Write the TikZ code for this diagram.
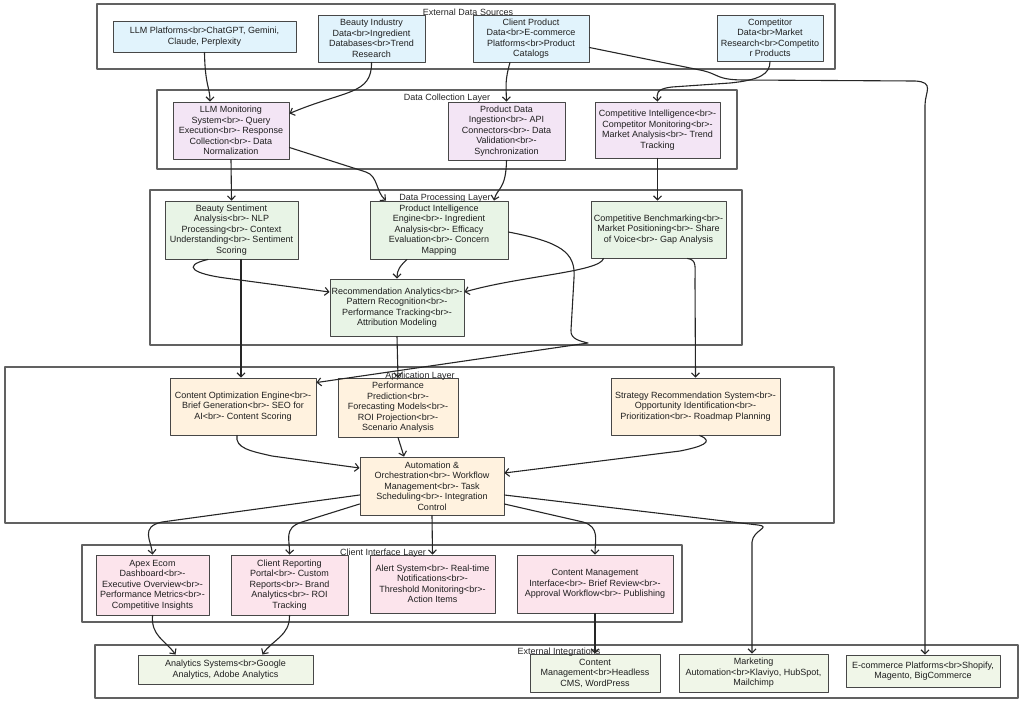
\documentclass[tikz,border=0pt]{standalone}
\usepackage{fontspec}
\setmainfont{Liberation Sans}
\usetikzlibrary{arrows.meta,calc}
\newcommand{\BR}{<br>}
\newcommand{\fs}{\fontsize{9}{10.5}\selectfont}
\definecolor{cblue}{HTML}{E1F3FC}
\definecolor{cpurp}{HTML}{F3E5F5}
\definecolor{cgreen}{HTML}{E8F4E6}
\definecolor{corange}{HTML}{FFF2DF}
\definecolor{cpink}{HTML}{FCE4EC}
\definecolor{cint}{HTML}{F0F6E8}
\begin{document}
\begin{tikzpicture}[x=1pt,y=-1pt,
  box/.style={draw=black!72, line width=0.9pt, align=center, inner sep=1pt, text=black!88, font=\fs},
  frame/.style={draw=black!62, line width=1.3pt},
  ttl/.style={font=\fs, inner sep=0pt, text=black!85},
  arr/.style={draw=black!85, line width=1.1pt, -{Straight Barb[length=4pt,width=8pt]}},
  line join=round, line cap=round]
\useasboundingbox (0,0) rectangle (1024,702);

% frames
\draw[frame] (97,4) rectangle (835,69);
\draw[frame] (157,90) rectangle (737,169);
\draw[frame] (150,190) rectangle (742,345);
\draw[frame] (5,367) rectangle (834,523);
\draw[frame] (82,545) rectangle (682,622);
\draw[frame] (95,645) rectangle (1018,698);

% nodes
\node[box,fill=cblue,minimum width=183,minimum height=31] (llmp) at (204.5,36.5) {LLM Platforms\BR ChatGPT, Gemini,\\Claude, Perplexity};
\node[box,fill=cblue,minimum width=107,minimum height=47] (beauty) at (371.5,38.5) {Beauty Industry\\Data\BR Ingredient\\Databases\BR Trend\\Research};
\node[box,fill=cblue,minimum width=116,minimum height=47] (client) at (531,38.5) {Client Product\\Data\BR E-commerce\\Platforms\BR Product\\Catalogs};
\node[box,fill=cblue,minimum width=106,minimum height=46] (comp) at (770,38) {Competitor\\Data\BR Market\\Research\BR Competito\\r Products};

\node[box,fill=cpurp,minimum width=116,minimum height=57] (llmmon) at (231,130.5) {LLM Monitoring\\System\BR- Query\\Execution\BR- Response\\Collection\BR- Data\\Normalization};
\node[box,fill=cpurp,minimum width=117,minimum height=58] (pdi) at (506.5,131) {Product Data\\Ingestion\BR- API\\Connectors\BR- Data\\Validation\BR-\\Synchronization};
\node[box,fill=cpurp,minimum width=125,minimum height=56] (ci) at (657.5,130) {Competitive Intelligence\BR-\\Competitor Monitoring\BR-\\Market Analysis\BR- Trend\\Tracking};

\node[box,fill=cgreen,minimum width=133,minimum height=58] (bs) at (231.5,230) {Beauty Sentiment\\Analysis\BR- NLP\\Processing\BR- Context\\Understanding\BR- Sentiment\\Scoring};
\node[box,fill=cgreen,minimum width=138,minimum height=58] (pie) at (439,230) {Product Intelligence\\Engine\BR- Ingredient\\Analysis\BR- Efficacy\\Evaluation\BR- Concern\\Mapping};
\node[box,fill=cgreen,minimum width=135,minimum height=57] (cb) at (658.5,229.5) {Competitive Benchmarking\BR-\\Market Positioning\BR- Share\\of Voice\BR- Gap Analysis};
\node[box,fill=cgreen,minimum width=134,minimum height=57] (ra) at (397,307.5) {Recommendation Analytics\BR-\\Pattern Recognition\BR-\\Performance Tracking\BR-\\Attribution Modeling};

\node[box,fill=corange,minimum width=146,minimum height=57] (co) at (243,406.5) {Content Optimization Engine\BR-\\Brief Generation\BR- SEO for\\AI\BR- Content Scoring};
\node[box,fill=corange,minimum width=120,minimum height=59] (pp) at (398,407.5) {Performance\\Prediction\BR-\\Forecasting Models\BR-\\ROI Projection\BR-\\Scenario Analysis};
\node[box,fill=corange,minimum width=169,minimum height=57] (sr) at (695.5,406.5) {Strategy Recommendation System\BR-\\Opportunity Identification\BR-\\Prioritization\BR- Roadmap Planning};
\node[box,fill=corange,minimum width=144,minimum height=58] (ao) at (432,486) {Automation \&\\Orchestration\BR- Workflow\\Management\BR- Task\\Scheduling\BR- Integration\\Control};

\node[box,fill=cpink,minimum width=113,minimum height=60] (apex) at (152.5,585) {Apex Ecom\\Dashboard\BR-\\Executive Overview\BR-\\Performance Metrics\BR-\\Competitive Insights};
\node[box,fill=cpink,minimum width=117,minimum height=60] (crp) at (289.5,585) {Client Reporting\\Portal\BR- Custom\\Reports\BR- Brand\\Analytics\BR- ROI\\Tracking};
\node[box,fill=cpink,minimum width=125,minimum height=58] (alert) at (432.5,584) {Alert System\BR- Real-time\\Notifications\BR-\\Threshold Monitoring\BR-\\Action Items};
\node[box,fill=cpink,minimum width=156,minimum height=58] (cmi) at (595,584) {Content Management\\Interface\BR- Brief Review\BR-\\Approval Workflow\BR- Publishing};

\node[box,fill=cint,minimum width=175,minimum height=29] (an) at (225.5,669.5) {Analytics Systems\BR Google\\Analytics, Adobe Analytics};
\node[box,fill=cint,minimum width=130,minimum height=38] (cm) at (595,673) {Content\\Management\BR Headless\\CMS, WordPress};
\node[box,fill=cint,minimum width=149,minimum height=38] (ma) at (753.5,673) {Marketing\\Automation\BR Klaviyo, HubSpot,\\Mailchimp};
\node[box,fill=cint,minimum width=154,minimum height=32] (ec) at (923,671) {E-commerce Platforms\BR Shopify,\\Magento, BigCommerce};

% connectors
\draw[arr] (llmp.south) .. controls (205,85) and (210,88) .. ([xshift=-21pt]llmmon.north);
\draw[arr] (beauty.south) .. controls (372,95) and (345,90) .. ([yshift=17pt]llmmon.east);
\draw[arr] ([xshift=-21pt]client.south) .. controls (505,80) and (506,85) .. (pdi.north);
\draw[arr] ([yshift=-9pt]client.east) -- (700,70) .. controls (720,74) and (715,80) .. (745,80) -- (915,81) .. controls (935,82) and (925,92) .. (925,105) -- (ec.north -| 925,0);
\draw[arr] (comp.south) .. controls (770,74) and (760,80) .. (730,83) -- (672,87) .. controls (655,89) and (657,94) .. (ci.north);

\draw[arr] (llmmon.south) -- (bs.north);
\draw[arr] ([yshift=-17pt]llmmon.east) -- (366,172) .. controls (378,176) and (376,192) .. ([xshift=-53pt]pie.north);
\draw[arr] (pdi.south) .. controls (506,190) and (497,188) .. ([xshift=55pt]pie.north);
\draw[arr] (ci.south) -- (ci.south |- cb.north);

\draw[arr] ([xshift=-23.5pt]bs.south) .. controls (180,266) and (195,274) .. (225,278) -- ([yshift=15.5pt]ra.west);
\draw[arr] ([xshift=9.5pt]bs.south) -- ([xshift=9.5pt]bs.south |- co.north);
\draw[arr] ([xshift=-32pt]pie.south) .. controls (400,266) and (397,270) .. (ra.north);
\draw[arr] ([yshift=-2pt]pie.east) .. controls (560,242) and (576,252) .. (574,278) -- (571,330) .. controls (570,339) and (580,341) .. (588,343) -- ([yshift=-5pt]co.north east);
\draw[arr] ([xshift=-55pt]cb.south) .. controls (600,272) and (520,276) .. ([yshift=15.5pt]ra.east);
\draw[arr] ([xshift=29pt]cb.south) .. controls (697,260) and (695,266) .. (695,282) -- (sr.north);

\draw[arr] (ra.south) -- (pp.north);
\draw[arr] ([xshift=-6pt]co.south) .. controls (235,448) and (250,451) .. (272,456) -- ([yshift=18pt]ao.west);
\draw[arr] (pp.south) -- ([xshift=-28pt]ao.north);
\draw[arr] ([xshift=4pt]sr.south) .. controls (716,442) and (700,447) .. (680,451) -- ([yshift=13pt]ao.east);

\draw[arr] ([yshift=-9pt]ao.west) -- (162,522) .. controls (140,527) and (151,540) .. (apex.north);
\draw[arr] ([yshift=-18pt]ao.west) -- (302,522) .. controls (283,528) and (290,540) .. (crp.north);
\draw[arr] (ao.south) -- (alert.north);
\draw[arr] ([yshift=-18pt]ao.east) -- (583,522) .. controls (600,527) and (595,540) .. (cmi.north);
\draw[arr] ([yshift=-9pt]ao.east) -- (758,525) .. controls (772,527) and (753,530) .. (752,542) -- (ma.north -| 752,0);

\draw[arr] (apex.south) .. controls (151,636) and (165,640) .. ([xshift=-50pt]an.north);
\draw[arr] (crp.south) .. controls (290,636) and (272,640) .. ([xshift=37pt]an.north);
\draw[arr] (cmi.south) -- (cm.north);

% layer titles
\node[ttl] (t1) at (468,12) {External Data Sources};
\node[ttl] (t2) at (447,98) {Data Collection Layer};
\node[ttl] (t3) at (445,198) {Data Processing Layer};
\node[ttl] (t4) at (420,376) {Application Layer};
\node[ttl] (t5) at (383,553) {Client Interface Layer};
\node[ttl] (t6) at (559,652) {External Integrations};
\end{tikzpicture}
\end{document}
